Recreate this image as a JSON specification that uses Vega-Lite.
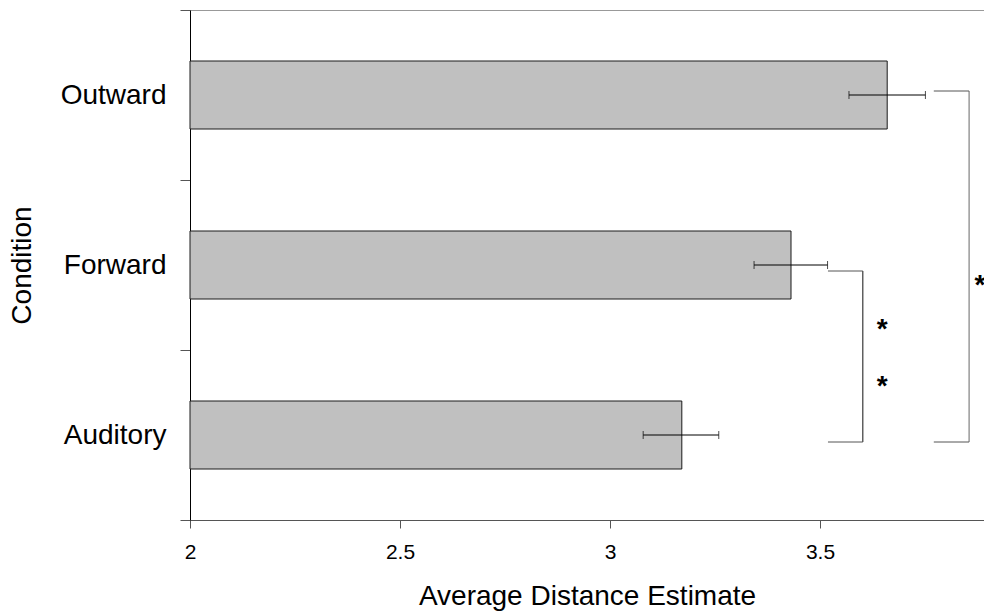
{
  "$schema": "https://vega.github.io/schema/vega-lite/v6.json",
  "width": 794,
  "height": 510,
  "autosize": {"type": "none"},
  "padding": {"left": 190, "top": 10, "right": 0, "bottom": 93},
  "background": "white",
  "config": {
    "view": {"stroke": null},
    "font": "Liberation Sans",
    "axis": {"labelFont": "Liberation Sans", "titleFont": "Liberation Sans", "labelColor": "#000", "titleColor": "#000", "titleFontWeight": "normal", "grid": false}
  },
  "datasets": {
    "bars": [
      {"condition": "Outward", "mean": 3.66, "lo": 3.569, "hi": 3.751},
      {"condition": "Forward", "mean": 3.431, "lo": 3.343, "hi": 3.518},
      {"condition": "Auditory", "mean": 3.171, "lo": 3.079, "hi": 3.259}
    ],
    "brackets": [
      {"id": "b1", "top": "Forward", "bottom": "Auditory", "left": 3.519, "right": 3.602},
      {"id": "b2", "top": "Outward", "bottom": "Auditory", "left": 3.771, "right": 3.855}
    ],
    "stars": [
      {"id": "s1", "condition": "Forward", "x": 3.648, "label": "*"},
      {"id": "s2", "condition": "Auditory", "x": 3.648, "label": "*"},
      {"id": "s3", "condition": "Forward", "x": 3.881, "label": "*"}
    ]
  },
  "layer": [
    {
      "data": {"name": "bars"},
      "mark": {"type": "bar", "fill": "#c0c0c0", "stroke": "#1a1a1a", "strokeWidth": 1, "height": {"band": 0.4}},
      "encoding": {
        "x": {
          "field": "mean", "type": "quantitative",
          "scale": {"domain": [2, 3.8905], "zero": false, "nice": false},
          "axis": {
            "orient": "bottom", "values": [2, 2.5, 3, 3.5], "format": "~g",
            "tickSize": 8, "tickColor": "#555", "domainColor": "#555",
            "labelFontSize": 21, "labelBaseline": "alphabetic", "labelPadding": 30, "labelFlush": false,
            "title": "Average Distance Estimate", "titleFontSize": 28, "titleBaseline": "alphabetic", "titleY": 84
          }
        },
        "x2": {"datum": 2},
        "y": {
          "field": "condition", "type": "nominal",
          "scale": {"domain": ["Outward", "Forward", "Auditory"], "paddingInner": 0, "paddingOuter": 0},
          "axis": {
            "title": "Condition", "titleFontSize": 28, "titleX": -168, "titleY": 255, "titleBaseline": "middle", "titleAlign": "center", "titleAngle": 270,
            "labelFontSize": 28, "labelPadding": 14, "tickBand": "extent", "tickSize": 10, "tickColor": "#555", "domainColor": "#000"
          }
        }
      }
    },
    {
      "data": {"name": "bars"},
      "mark": {"type": "rule", "color": "#000", "strokeWidth": 1},
      "encoding": {
        "x": {"field": "lo", "type": "quantitative", "axis": {"orient": "top", "labels": false, "ticks": false, "title": null, "domainColor": "#999"}},
        "x2": {"field": "hi"},
        "y": {"field": "condition", "type": "nominal", "scale": {"domain": ["Outward", "Forward", "Auditory"]}}
      }
    },
    {
      "data": {"name": "bars"},
      "transform": [{"fold": ["lo", "hi"], "as": ["end", "value"]}],
      "mark": {"type": "tick", "orient": "vertical", "size": 8, "thickness": 1, "color": "#000"},
      "encoding": {
        "x": {"field": "value", "type": "quantitative", "axis": null},
        "y": {"field": "condition", "type": "nominal", "scale": {"domain": ["Outward", "Forward", "Auditory"]}}
      }
    },
    {
      "data": {"name": "brackets"},
      "transform": [{"filter": "datum.id == 'b1'"}],
      "mark": {"type": "rule", "color": "#111", "strokeWidth": 1, "yOffset": 6, "y2Offset": 7},
      "encoding": {
        "x": {"field": "right", "type": "quantitative", "axis": null},
        "y": {"field": "top", "type": "nominal", "scale": {"domain": ["Outward", "Forward", "Auditory"]}},
        "y2": {"field": "bottom"}
      }
    },
    {
      "data": {"name": "brackets"},
      "transform": [{"filter": "datum.id == 'b2'"}],
      "mark": {"type": "rule", "color": "#666", "strokeWidth": 1, "yOffset": -4, "y2Offset": 7},
      "encoding": {
        "x": {"field": "right", "type": "quantitative", "axis": null},
        "y": {"field": "top", "type": "nominal", "scale": {"domain": ["Outward", "Forward", "Auditory"]}},
        "y2": {"field": "bottom"}
      }
    },
    {
      "data": {"name": "brackets"},
      "transform": [{"filter": "datum.id == 'b1'"}],
      "mark": {"type": "rule", "color": "#555", "strokeWidth": 1, "yOffset": 6},
      "encoding": {
        "x": {"field": "left", "type": "quantitative", "axis": null},
        "x2": {"field": "right"},
        "y": {"field": "top", "type": "nominal", "scale": {"domain": ["Outward", "Forward", "Auditory"]}}
      }
    },
    {
      "data": {"name": "brackets"},
      "transform": [{"filter": "datum.id == 'b2'"}],
      "mark": {"type": "rule", "color": "#555", "strokeWidth": 1, "yOffset": -4},
      "encoding": {
        "x": {"field": "left", "type": "quantitative", "axis": null},
        "x2": {"field": "right"},
        "y": {"field": "top", "type": "nominal", "scale": {"domain": ["Outward", "Forward", "Auditory"]}}
      }
    },
    {
      "data": {"name": "brackets"},
      "mark": {"type": "rule", "color": "#555", "strokeWidth": 1, "yOffset": 7},
      "encoding": {
        "x": {"field": "left", "type": "quantitative", "axis": null},
        "x2": {"field": "right"},
        "y": {"field": "bottom", "type": "nominal", "scale": {"domain": ["Outward", "Forward", "Auditory"]}}
      }
    },
    {
      "data": {"name": "stars"},
      "transform": [{"filter": "datum.id == 's1'"}],
      "mark": {"type": "text", "fontSize": 28, "fontWeight": "bold", "baseline": "alphabetic", "align": "center", "dy": 73, "color": "#000"},
      "encoding": {
        "x": {"field": "x", "type": "quantitative", "axis": null},
        "y": {"field": "condition", "type": "nominal", "scale": {"domain": ["Outward", "Forward", "Auditory"]}},
        "text": {"field": "label"}
      }
    },
    {
      "data": {"name": "stars"},
      "transform": [{"filter": "datum.id == 's2'"}],
      "mark": {"type": "text", "fontSize": 28, "fontWeight": "bold", "baseline": "alphabetic", "align": "center", "dy": -40, "color": "#000"},
      "encoding": {
        "x": {"field": "x", "type": "quantitative", "axis": null},
        "y": {"field": "condition", "type": "nominal", "scale": {"domain": ["Outward", "Forward", "Auditory"]}},
        "text": {"field": "label"}
      }
    },
    {
      "data": {"name": "stars"},
      "transform": [{"filter": "datum.id == 's3'"}],
      "mark": {"type": "text", "fontSize": 28, "fontWeight": "bold", "baseline": "alphabetic", "align": "center", "dy": 29, "color": "#000"},
      "encoding": {
        "x": {"field": "x", "type": "quantitative", "axis": null},
        "y": {"field": "condition", "type": "nominal", "scale": {"domain": ["Outward", "Forward", "Auditory"]}},
        "text": {"field": "label"}
      }
    }
  ],
  "resolve": {"axis": {"x": "independent"}}
}
